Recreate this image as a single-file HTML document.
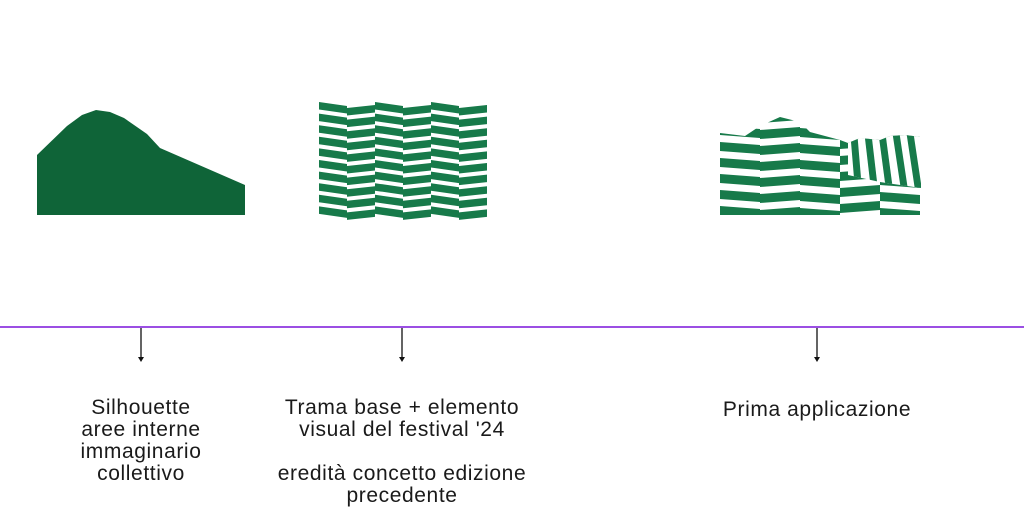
<!DOCTYPE html>
<html><head><meta charset="utf-8"><style>
html,body{margin:0;padding:0;background:#fff;width:1024px;height:525px;overflow:hidden}
.t{position:absolute;font-family:"Liberation Sans",sans-serif;font-size:21px;line-height:22px;color:#1a1a1a;text-align:center;white-space:nowrap;transform:translateX(-50%);letter-spacing:0.6px}
</style></head><body>
<svg width="1024" height="525" style="position:absolute;left:0;top:0">
<defs>
<g id="ca">
<polygon points="0,0 28,4 28,11.5 0,7.5"/><polygon points="0,11.6 28,15.6 28,23.1 0,19.1"/><polygon points="0,23.2 28,27.2 28,34.7 0,30.7"/><polygon points="0,34.8 28,38.8 28,46.3 0,42.3"/><polygon points="0,46.4 28,50.4 28,57.9 0,53.9"/><polygon points="0,58 28,62 28,69.5 0,65.5"/><polygon points="0,69.6 28,73.6 28,81.1 0,77.1"/><polygon points="0,81.2 28,85.2 28,92.7 0,88.7"/><polygon points="0,92.8 28,96.8 28,104.3 0,100.3"/><polygon points="0,104.4 28,108.4 28,115.9 0,111.9"/>
</g>
<g id="cb">
<polygon points="0,6 28,3 28,10.5 0,13.5"/><polygon points="0,17.6 28,14.6 28,22.1 0,25.1"/><polygon points="0,29.2 28,26.2 28,33.7 0,36.7"/><polygon points="0,40.8 28,37.8 28,45.3 0,48.3"/><polygon points="0,52.4 28,49.4 28,56.9 0,59.9"/><polygon points="0,64 28,61 28,68.5 0,71.5"/><polygon points="0,75.6 28,72.6 28,80.1 0,83.1"/><polygon points="0,87.2 28,84.2 28,91.7 0,94.7"/><polygon points="0,98.8 28,95.8 28,103.3 0,106.3"/><polygon points="0,110.4 28,107.4 28,114.9 0,117.9"/>
</g>
<g id="cc">
<polygon points="0,0 40,3 40,12 0,9"/><polygon points="0,16 40,19 40,28 0,25"/><polygon points="0,32 40,35 40,44 0,41"/><polygon points="0,48 40,51 40,60 0,57"/><polygon points="0,64 40,67 40,76 0,73"/><polygon points="0,80 40,83 40,92 0,89"/><polygon points="0,96 40,99 40,108 0,105"/><polygon points="0,112 40,115 40,124 0,121"/>
</g>
<g id="cd">
<polygon points="0,8 40,5 40,14 0,17"/><polygon points="0,24 40,21 40,30 0,33"/><polygon points="0,40 40,37 40,46 0,49"/><polygon points="0,56 40,53 40,62 0,65"/><polygon points="0,72 40,69 40,78 0,81"/><polygon points="0,88 40,85 40,94 0,97"/><polygon points="0,104 40,101 40,110 0,113"/><polygon points="0,120 40,117 40,126 0,129"/>
</g>
<clipPath id="sk"><polygon points="720,133 745,136 760,126 780,117 800,122 810,132 840,140 848,143 860,138 880,140 890,136 905,135 921,137 921,215 720,215"/></clipPath>
<clipPath id="sk2"><polygon points="848,143 860,138 880,140 890,136 905,135 921,137 921,188 880,182 848,175"/></clipPath>
</defs>
<polygon fill="#0f6438" points="37,155 37,215 245,215 245,185 160,148 147,134 124,118 110,112 96,110 82,115 67,126"/>
<g fill="#177a4a">
<use href="#ca" x="319" y="102"/><use href="#cb" x="347" y="102"/><use href="#ca" x="375" y="102"/><use href="#cb" x="403" y="102"/><use href="#ca" x="431" y="102"/><use href="#cb" x="459" y="102"/>
</g>
<g fill="#177a4a" clip-path="url(#sk)">
<use href="#cc" x="720" y="110"/>
<use href="#cd" x="760" y="106"/>
<use href="#cc" x="800" y="112"/>
<use href="#cd" x="840" y="100"/>
<use href="#cc" x="880" y="112"/>
</g>
<rect x="848" y="130" width="74" height="58" fill="#fff" clip-path="url(#sk2)"/>
<g fill="#177a4a" clip-path="url(#sk2)">
<polygon points="850,130 857,130 862,190 855,190"/>
<polygon points="864,130 871,130 878,190 871,190"/>
<polygon points="878,130 885,130 893,190 886,190"/>
<polygon points="892,130 899,130 908,190 901,190"/>
<polygon points="906,130 913,130 922,190 915,190"/>
</g>
<rect x="0" y="326" width="1024" height="2" fill="#9b4fe3"/>
<g stroke="#111" stroke-width="1.3" fill="#111">
<line x1="141" y1="328" x2="141" y2="360"/><polygon points="138,357 144,357 141,362" stroke="none"/>
<line x1="402" y1="328" x2="402" y2="360"/><polygon points="399,357 405,357 402,362" stroke="none"/>
<line x1="817" y1="328" x2="817" y2="360"/><polygon points="814,357 820,357 817,362" stroke="none"/>
</g>
</svg>
<div class="t" style="left:141px;top:397px">Silhouette<br>aree interne<br>immaginario<br>collettivo</div>
<div class="t" style="left:402px;top:397px">Trama base + elemento<br>visual del festival '24<br><br>eredità concetto edizione<br>precedente</div>
<div class="t" style="left:817px;top:399px">Prima applicazione</div>
</body></html>
